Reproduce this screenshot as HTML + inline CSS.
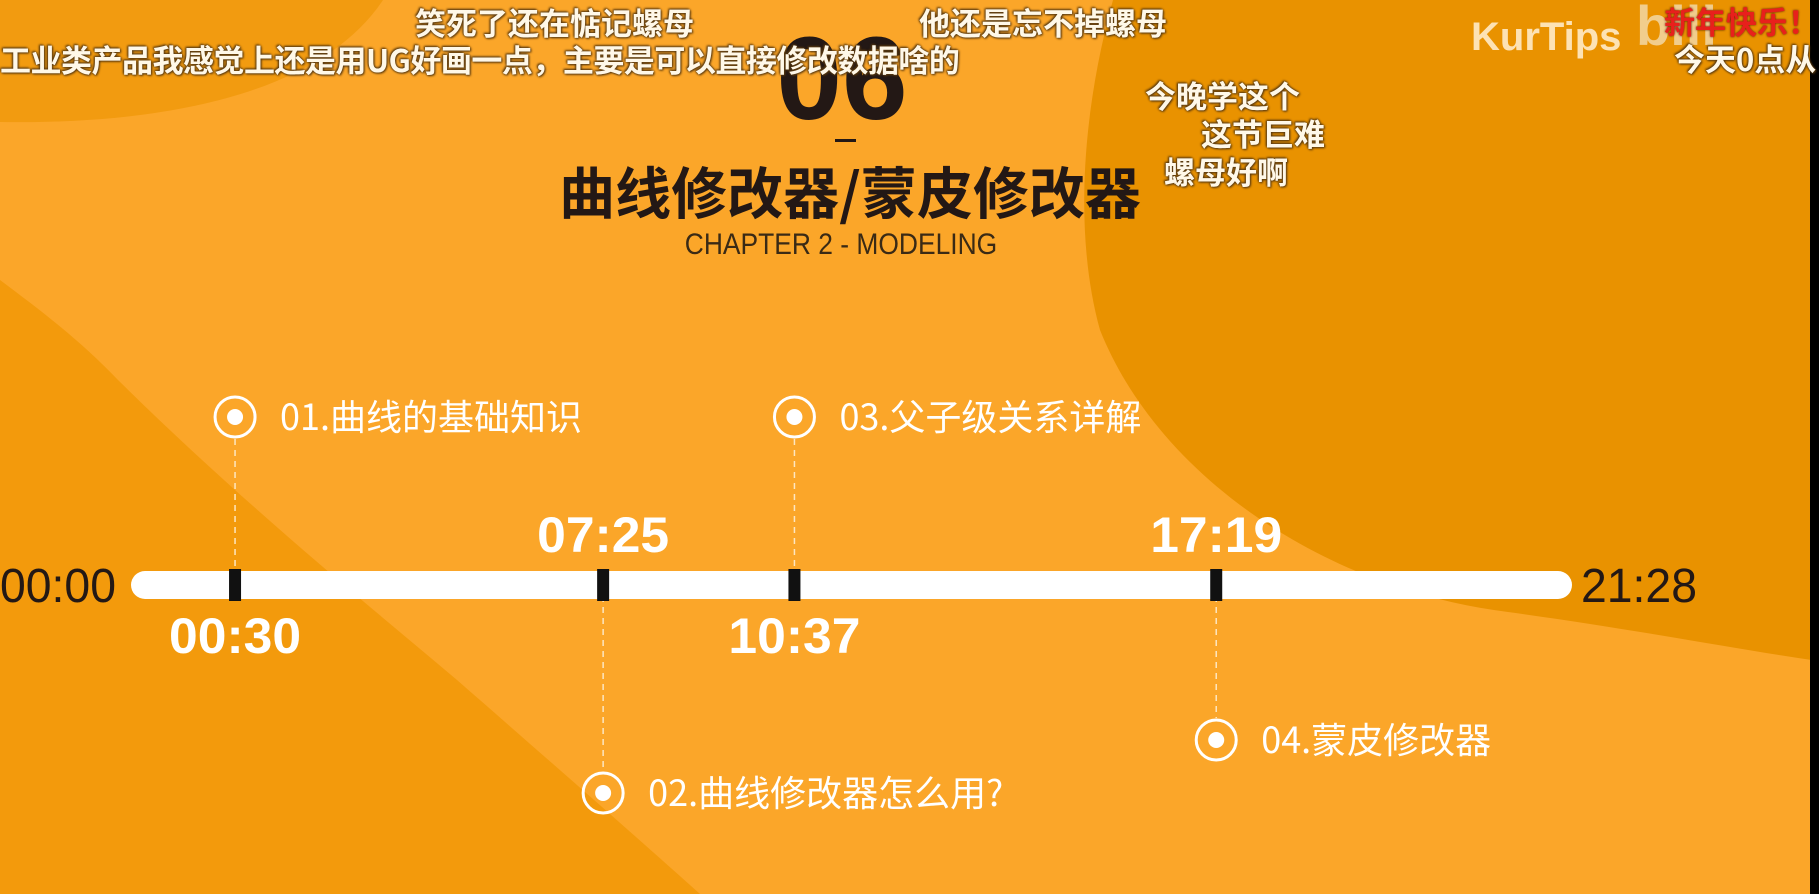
<!DOCTYPE html>
<html><head><meta charset="utf-8">
<style>
html,body{margin:0;padding:0}
body{width:1819px;height:894px;overflow:hidden;position:relative;background:#fba629;font-family:"Liberation Sans","Noto Sans CJK SC",sans-serif}
.abs{position:absolute;white-space:nowrap}
.dm{position:absolute;white-space:nowrap;color:#fff8e8;font-weight:bold;font-size:31px;line-height:31px;font-family:"Noto Sans CJK SC","WenQuanYi Zen Hei",sans-serif;text-shadow:0 0 2px #5a3a10,1px 1px 2px #5a3a10,-1px -1px 2px #5a3a10}
</style></head>
<body>
<svg class="abs" style="left:0;top:0" width="1819" height="894">
  <path d="M0,0 L383,0 C330,80 200,125 0,122 Z" fill="#f29b10"/>
  <path d="M0,280 C40,310 80,340 118,380 C240,500 350,590 457,680 C560,770 640,840 700,894 L0,894 Z" fill="#f39a0c"/>
  <path d="M1113,0 C1080,120 1075,240 1100,330 C1160,480 1330,590 1508,612 C1640,630 1740,650 1819,661 L1819,0 Z" fill="#e99200"/>
  <rect x="1810" y="0" width="9" height="894" fill="#000"/>
</svg>

<div class="abs" style="left:742px;top:20px;width:200px;text-align:center;font-size:118px;line-height:118px;font-weight:bold;color:#231815;font-family:'Liberation Sans',sans-serif">06</div>
<div class="abs" style="left:835px;top:139px;width:21px;height:3px;background:#231815"></div>
<div class="abs" style="left:520px;top:160px;width:660px;text-align:center;font-size:56px;line-height:62px;font-weight:bold;color:#231815;font-family:'Noto Sans CJK SC',sans-serif">曲线修改器/蒙皮修改器</div>
<div class="abs" style="left:641px;top:229px;width:400px;text-align:center;font-size:30px;line-height:32px;color:#3a2a15;transform:scaleX(0.88);font-family:'Liberation Sans',sans-serif">CHAPTER 2 - MODELING</div>

<svg id="timeline" class="abs" style="left:0;top:0" width="1819" height="894"></svg>

<div class="dm" style="left:415px;top:6px">笑死了还在惦记螺母</div>
<div class="dm" style="left:919px;top:6px">他还是忘不掉螺母</div>
<div class="dm" style="left:0px;top:43px;letter-spacing:-0.5px">工业类产品我感觉上还是用UG好画一点，主要是可以直接修改数据啥的</div>
<div class="dm" style="left:1145px;top:79px">今晚学这个</div>
<div class="dm" style="left:1201px;top:117px">这节巨难</div>
<div class="dm" style="left:1164px;top:155px">螺母好啊</div>
<div class="abs" style="left:1471px;top:15px;font-size:40px;line-height:44px;font-weight:bold;color:#fde2b4">KurTips</div>
<div class="abs" style="left:1636px;top:-4px;font-size:56px;line-height:60px;font-weight:bold;color:#f4dcb0;opacity:.8">bili</div>
<div class="dm" style="left:1664px;top:5px;color:#e8201c;text-shadow:0 0 2px #4a1a00">新年快乐！</div>
<div class="dm" style="left:1674px;top:42px">今天0点从</div>

<script>
const chapterNames=["01.曲线的基础知识","02.曲线修改器怎么用?","03.父子级关系详解","04.蒙皮修改器"];
const chapterMarkerSeconds=[93,422,593,970];
const chapterTimeLabels=["00:30","07:25","10:37","17:19"];
const chapterSide=["up","down","up","down"];
const totalSeconds=1288;
const endLabels=["00:00","21:28"];

const NS="http://www.w3.org/2000/svg";
const svg=document.getElementById('timeline');
const x0=131,x1=1572,barY=585;
function xScale(t){return x0+(t/totalSeconds)*(x1-x0);}
function mk(tag,attrs){const e=document.createElementNS(NS,tag);for(const k in attrs)e.setAttribute(k,attrs[k]);svg.appendChild(e);return e;}

const bar=mk('rect',{x:x0,y:barY-14,width:x1-x0,height:28,rx:14,fill:'#fff'});



const s=mk('text',{x:0,y:barY+17,'font-size':48,fill:'#231815','font-family':'Liberation Sans, sans-serif',textLength:116,lengthAdjust:'spacingAndGlyphs'});
s.textContent=endLabels[0];


const e2=mk('text',{x:x1+9,y:barY+17,'font-size':48,fill:'#231815','font-family':'Liberation Sans, sans-serif',textLength:116,lengthAdjust:'spacingAndGlyphs'});
e2.textContent=endLabels[1];



chapterMarkerSeconds.forEach((t,i)=>{
  const x=xScale(t);
  const up=chapterSide[i]==="up";
  const cy=up?417:(i===1?793:740);
  const ln=mk('line',{x1:x,x2:x,y1:up?cy+22:barY,y2:up?barY:cy-22,stroke:'#fde6c0','stroke-width':1.5,'stroke-dasharray':'6,5'});
  
  
  const tk=mk('rect',{x:x-6,y:barY-16,width:12,height:32,fill:'#111'});
  
  
  const c=mk('circle',{cx:x,cy:cy,r:20,fill:'none',stroke:'#fff','stroke-width':3});
  
  
  const d=mk('circle',{cx:x,cy:cy,r:8,fill:'#fff'});
  
  
  const nm=mk('text',{x:x+45,y:cy+13,'font-size':36,fill:'#fff','font-family':'Noto Sans CJK SC, sans-serif'});
  nm.textContent=chapterNames[i];
  
  
  const labelY=(i===0||i===2)?653:552;
  const tl=mk('text',{x:x,y:labelY,'font-size':50,'font-weight':'bold',fill:'#fff','text-anchor':'middle','font-family':'Liberation Sans, sans-serif',textLength:132,lengthAdjust:'spacingAndGlyphs'});
  tl.textContent=chapterTimeLabels[i];
  
  
});
</script>
</body></html>
